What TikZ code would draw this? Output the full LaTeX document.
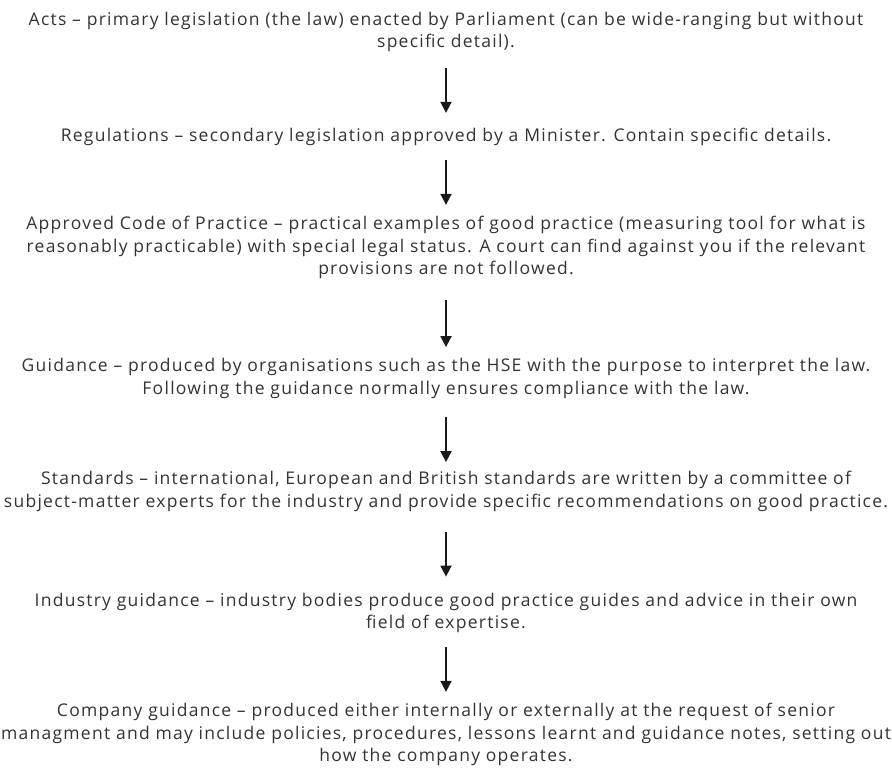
\documentclass[tikz,border=0pt]{standalone}
\usepackage{fontspec}
\setmainfont{Open Sans}[LetterSpace=7.2]
\usetikzlibrary{arrows.meta}
\definecolor{txt}{HTML}{333333}
\definecolor{arr}{HTML}{1A1A1A}
\tikzset{
  blk/.style={align=center, inner sep=0pt, text=txt, font=\fontsize{17.5}{22.5}\selectfont},
  flow/.style={draw=arr, line width=1.8pt, -{Triangle[length=11pt,width=11pt]}}
}
\newcommand{\st}{\rule[-6.75pt]{0pt}{22.5pt}}
\begin{document}
\begin{tikzpicture}[x=1pt,y=-1pt]
\useasboundingbox (0,0) rectangle (892,777);
\node[blk] (a) at (446,32) {\st Acts – primary legislation (the law) enacted by Parliament (can be wide-ranging but without\\specific detail).\st};
\node[blk] (b) at (446,137) {\st Regulations – secondary legislation approved by a Minister. Contain specific details.\st};
\node[blk] (c) at (446,247.5) {\st Approved Code of Practice – practical examples of good practice (measuring tool for what is\\reasonably practicable) with special legal status. A court can find against you if the relevant\\provisions are not followed.\st};
\node[blk] (d) at (446,378.5) {\st Guidance – produced by organisations such as the HSE with the purpose to interpret the law.\\Following the guidance normally ensures compliance with the law.\st};
\node[blk] (e) at (446,491.5) {\st Standards – international, European and British standards are written by a committee of\\subject-matter experts for the industry and provide specific recommendations on good practice.\st};
\node[blk] (f) at (446,613) {\st Industry guidance – industry bodies produce good practice guides and advice in their own\\field of expertise.\st};
\node[blk] (g) at (446,734.5) {\st Company guidance – produced either internally or externally at the request of senior\\managment and may include policies, procedures, lessons learnt and guidance notes, setting out\\how the company operates.\st};
\draw[flow, shorten <=13.7pt, shorten >=12.7pt] (a) -- (b);
\draw[flow, shorten <=11.7pt, shorten >=8.7pt] (b) -- (c);
\draw[flow, shorten <=18.7pt, shorten >=8.7pt] (c) -- (d);
\draw[flow, shorten <=15.7pt, shorten >=6.7pt] (d) -- (e);
\draw[flow, shorten <=17.7pt, shorten >=13.7pt] (e) -- (f);
\draw[flow, shorten <=11.7pt, shorten >=8.7pt] (f) -- (g);
\end{tikzpicture}
\end{document}
